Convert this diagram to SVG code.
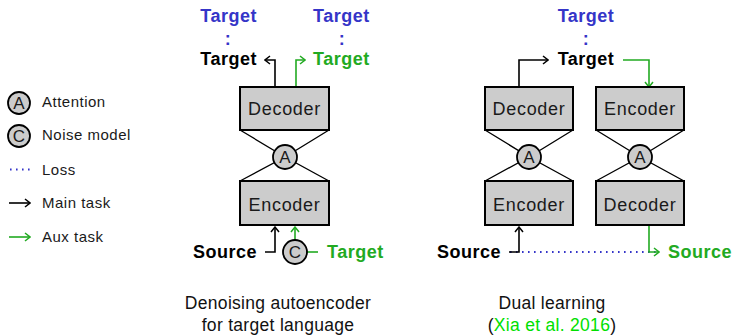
<svg xmlns="http://www.w3.org/2000/svg" width="736" height="336" viewBox="0 0 736 336">
<style>
text{font-family:"Liberation Sans",Arial,sans-serif;}
.lbl{font-size:18px;font-weight:bold;letter-spacing:0.5px;}
.box{fill:#cccccc;stroke:#000;stroke-width:2;}
.bt{font-size:18px;letter-spacing:0.7px;text-anchor:middle;fill:#1a1a1a;}
.circ{fill:#cccccc;stroke:#000;stroke-width:1.8;}
.ct{font-size:17px;text-anchor:middle;fill:#1a1a1a;}
.leg{font-size:15px;letter-spacing:0.5px;fill:#1a1a1a;}
.cap{font-size:17.5px;letter-spacing:0.3px;text-anchor:middle;fill:#111;}
.blue{fill:#3535c8;}
.green{fill:#22aa22;}
.blk{fill:#000;}
.trap{stroke:#000;stroke-width:1.3;fill:none;}
.cb{stroke:#000;stroke-width:1.6;fill:none;}
.cg{stroke:#22aa22;stroke-width:1.6;fill:none;}
.dot{stroke:#3535c8;stroke-width:1.8;fill:none;stroke-dasharray:1.6 4.4;}
</style>
<defs>
<marker id="ab" viewBox="-7 -5 8 10" markerWidth="8" markerHeight="10" refX="0" refY="0" orient="auto" markerUnits="userSpaceOnUse">
<path d="M-5,-4 L0,0 L-5,4" fill="none" stroke="#000" stroke-width="1.5"/>
</marker>
<marker id="ag" viewBox="-7 -5 8 10" markerWidth="8" markerHeight="10" refX="0" refY="0" orient="auto" markerUnits="userSpaceOnUse">
<path d="M-5,-4 L0,0 L-5,4" fill="none" stroke="#22aa22" stroke-width="1.5"/>
</marker>
</defs>

<!-- Legend -->
<g id="legend">
<g id="leg-attention">
<circle class="circ" cx="19" cy="103" r="11"/>
<text class="ct" x="19" y="109">A</text>
<text class="leg" x="42" y="107">Attention</text>
</g>
<g id="leg-noise">
<circle class="circ" cx="19" cy="136" r="11"/>
<text class="ct" x="19" y="142">C</text>
<text class="leg" x="42" y="140">Noise model</text>
</g>
<g id="leg-loss">
<line class="dot" x1="10" y1="169.5" x2="31" y2="169.5"/>
<text class="leg" x="42" y="175">Loss</text>
</g>
<g id="leg-main">
<line class="cb" x1="9" y1="203" x2="30" y2="203" marker-end="url(#ab)"/>
<text class="leg" x="42" y="208">Main task</text>
</g>
<g id="leg-aux">
<line class="cg" x1="9" y1="237" x2="30" y2="237" marker-end="url(#ag)"/>
<text class="leg" x="42" y="242">Aux task</text>
</g>
</g>

<!-- Connectors -->
<g id="connectors">
<path class="trap" d="M240,130 L285,157 L329,130"/>
<path class="trap" d="M240,181 L285,157 L329,181"/>
<path class="trap" d="M485,130 L529,157 L573,130"/>
<path class="trap" d="M485,181 L529,157 L573,181"/>
<path class="trap" d="M596,130 L640,157 L684,130"/>
<path class="trap" d="M596,181 L640,157 L684,181"/>
<path class="cb" d="M275,87 L275,60 L265,60" marker-end="url(#ab)"/>
<path class="cg" d="M296,87 L296,60 L305,60" marker-end="url(#ag)"/>
<path class="cb" d="M265,252 L275,252 L275,227" marker-end="url(#ab)"/>
<path class="cg" d="M295,240 L295,227" marker-end="url(#ag)"/>
<path class="cg" d="M307,252 L318,252"/>
<path class="cb" d="M519,87 L519,60 L548,60" marker-end="url(#ab)"/>
<path class="cg" d="M623,60 L649,60 L649,87" marker-end="url(#ag)"/>
<line class="dot" x1="510" y1="252" x2="656" y2="252"/>
<path class="cb" d="M509,252 L519,252 L519,227" marker-end="url(#ab)"/>
<path class="cg" d="M649,226 L649,252 L659,252" marker-end="url(#ag)"/>
</g>

<!-- Left diagram: denoising autoencoder -->
<g id="dae-decoder">
<rect class="box" x="240" y="87" width="89" height="43"/>
<text class="bt" x="284.5" y="115">Decoder</text>
</g>
<g id="dae-attention">
<circle class="circ" cx="285" cy="157" r="12"/>
<text class="ct" x="285" y="163">A</text>
</g>
<g id="dae-encoder">
<rect class="box" x="240" y="181" width="89" height="44"/>
<text class="bt" x="284.5" y="211">Encoder</text>
</g>
<g id="dae-noise">
<circle class="circ" cx="295" cy="252" r="12"/>
<text class="ct" x="295" y="258">C</text>
</g>
<g id="dae-source">
<text class="lbl blk" x="257" y="258" text-anchor="end">Source</text>
</g>
<g id="dae-target-in">
<text class="lbl green" x="327" y="258">Target</text>
</g>
<g id="dae-target-out-main">
<text class="lbl blue" x="257" y="22" text-anchor="end">Target</text>
<text class="lbl blue" x="228" y="45" text-anchor="middle">:</text>
<text class="lbl blk" x="257" y="65" text-anchor="end">Target</text>
</g>
<g id="dae-target-out-aux">
<text class="lbl blue" x="313" y="22">Target</text>
<text class="lbl blue" x="342" y="45" text-anchor="middle">:</text>
<text class="lbl green" x="313" y="65">Target</text>
</g>
<g id="dae-caption">
<text class="cap" x="278" y="309">Denoising autoencoder</text>
<text class="cap" x="278" y="331">for target language</text>
</g>

<!-- Right diagram: dual learning -->
<g id="dl-decoder1">
<rect class="box" x="485" y="87" width="88" height="43"/>
<text class="bt" x="529" y="115">Decoder</text>
</g>
<g id="dl-attention1">
<circle class="circ" cx="529" cy="157" r="12"/>
<text class="ct" x="529" y="163">A</text>
</g>
<g id="dl-encoder1">
<rect class="box" x="485" y="181" width="88" height="44"/>
<text class="bt" x="529" y="211">Encoder</text>
</g>
<g id="dl-encoder2">
<rect class="box" x="596" y="87" width="88" height="43"/>
<text class="bt" x="640" y="115">Encoder</text>
</g>
<g id="dl-attention2">
<circle class="circ" cx="640" cy="157" r="12"/>
<text class="ct" x="640" y="163">A</text>
</g>
<g id="dl-decoder2">
<rect class="box" x="596" y="181" width="88" height="44"/>
<text class="bt" x="640" y="211">Decoder</text>
</g>
<g id="dl-source-in">
<text class="lbl blk" x="501" y="258" text-anchor="end">Source</text>
</g>
<g id="dl-source-out">
<text class="lbl green" x="668" y="258">Source</text>
</g>
<g id="dl-target">
<text class="lbl blue" x="586" y="22" text-anchor="middle">Target</text>
<text class="lbl blue" x="586" y="45" text-anchor="middle">:</text>
<text class="lbl blk" x="586" y="65" text-anchor="middle">Target</text>
</g>
<g id="dl-caption">
<text class="cap" x="552" y="309">Dual learning</text>
<text class="cap" x="552" y="331">(<tspan fill="#00e000">Xia et al. 2016</tspan>)</text>
</g>
</svg>
